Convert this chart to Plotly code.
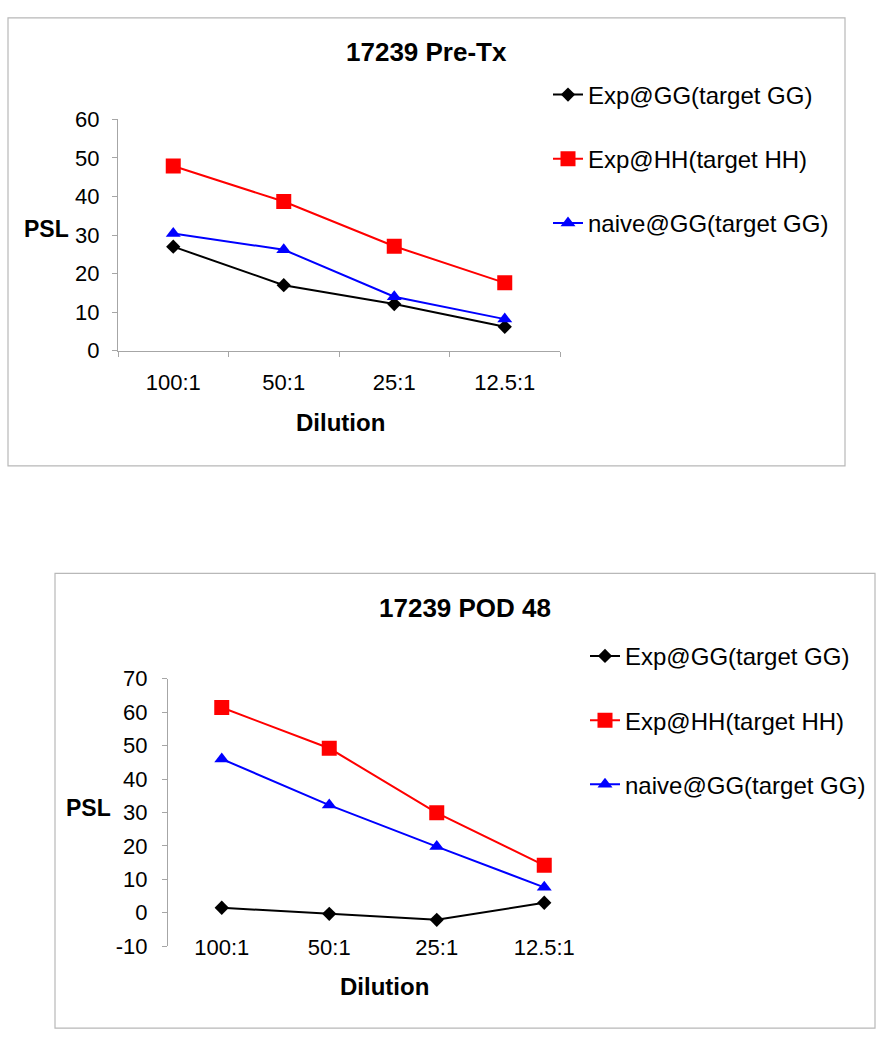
import plotly.graph_objects as go

# ---------------- data ----------------
categories = ["100:1", "50:1", "25:1", "12.5:1"]
series_names = ["Exp@GG(target GG)", "Exp@HH(target HH)", "naive@GG(target GG)"]

pre_exp_gg = [27.0, 17.0, 12.1, 6.2]
pre_exp_hh = [47.9, 38.7, 27.1, 17.6]
pre_naive_gg = [30.4, 26.2, 14.0, 8.2]

pod_exp_gg = [1.5, -0.3, -2.1, 3.0]
pod_exp_hh = [61.4, 49.2, 29.9, 14.2]
pod_naive_gg = [46.0, 32.2, 19.8, 7.6]

pre_yticks = [0, 10, 20, 30, 40, 50, 60]
pre_grid = [10, 20, 30, 40, 50]
pod_yticks = [-10, 0, 10, 20, 30, 40, 50, 60, 70]
pod_grid = [10, 20, 30, 40, 50, 60]

titles = ["17239 Pre-Tx", "17239 POD 48"]
x_title = "Dilution"
y_title = "PSL"

# ---------------- style ----------------
W, H = 886, 1050
FONT = "Liberation Sans, Arial, sans-serif"
AXC = "#a6a6a6"
GRIDC = "#c0c0c0"
BOXC = "#b8b8b8"
colors = ["#000000", "#ff0000", "#0000ff"]
symbols = ["diamond", "square", "triangle-up"]
msizes = [11, 15, 13]


def px(x):
    return x / W


def py(y):
    return 1 - y / H


fig = go.Figure()

pre_series = [pre_exp_gg, pre_exp_hh, pre_naive_gg]
pod_series = [pod_exp_gg, pod_exp_hh, pod_naive_gg]

for i, (name, vals) in enumerate(zip(series_names, pre_series)):
    fig.add_trace(go.Scatter(
        x=categories, y=vals, name=name, mode="lines+markers",
        line=dict(color=colors[i], width=2),
        marker=dict(symbol=symbols[i], size=msizes[i], color=colors[i]),
        xaxis="x", yaxis="y", legend="legend", legendgroup="a%d" % i,
        hoverinfo="skip"))

for i, (name, vals) in enumerate(zip(series_names, pod_series)):
    fig.add_trace(go.Scatter(
        x=categories, y=vals, name=name, mode="lines+markers",
        line=dict(color=colors[i], width=2),
        marker=dict(symbol=symbols[i], size=msizes[i], color=colors[i]),
        xaxis="x2", yaxis="y2", legend="legend2", legendgroup="b%d" % i,
        hoverinfo="skip"))

tickfont = dict(family=FONT, size=22, color="black")
ncat = len(categories)
boundaries = [i - 0.5 for i in range(ncat + 1)]

# top plot domain
top_x = [px(118), px(560)]
top_y = [py(347), py(110)]
# bottom plot domain
bot_x = [px(168), px(598)]
bot_y = [py(957), py(683)]
yr2 = [pod_yticks[0], pod_yticks[-1]]
p0 = bot_y[0] + (0 - yr2[0]) / (yr2[1] - yr2[0]) * (bot_y[1] - bot_y[0])

common_cat = dict(type="category", categoryorder="array", categoryarray=categories,
                  range=[-0.5, ncat - 0.5], showgrid=False, zeroline=False,
                  tickfont=tickfont)

fig.update_layout(
    width=W, height=H, margin=dict(l=0, r=0, t=0, b=0),
    paper_bgcolor="white", plot_bgcolor="rgba(0,0,0,0)",
    font=dict(family=FONT, color="black"),
    xaxis=dict(domain=top_x, anchor="y", showline=True, linecolor=AXC, linewidth=1,
               ticks="outside", tickson="boundaries", ticklen=5, tickcolor=AXC,
               ticklabelstandoff=12, **common_cat),
    yaxis=dict(domain=top_y, anchor="x", range=[pre_yticks[0], pre_yticks[-1]],
               tickvals=pre_yticks, ticktext=[str(v) for v in pre_yticks],
               showline=True, linecolor=AXC, linewidth=1,
               ticks="outside", ticklen=5, tickcolor=AXC, showgrid=False,
               zeroline=False, tickfont=tickfont, ticklabelstandoff=8),
    yaxis5=dict(overlaying="y", anchor="x", range=[pre_yticks[0], pre_yticks[-1]],
                tickvals=pre_grid, showgrid=True, gridcolor=GRIDC, gridwidth=1,
                showticklabels=False, ticks="", showline=False, zeroline=False),
    xaxis2=dict(domain=bot_x, anchor="y2", showline=False, ticks="",
                ticklabelstandoff=-14, **common_cat),
    yaxis2=dict(domain=bot_y, anchor="x2", range=yr2, tickvals=pod_yticks,
                ticktext=[str(v) for v in pod_yticks],
                showline=True, linecolor=AXC, linewidth=1, ticks="outside", ticklen=5,
                tickcolor=AXC, showgrid=False, zeroline=False, tickfont=tickfont,
                ticklabelstandoff=10),
    yaxis6=dict(overlaying="y2", anchor="x2", range=yr2, tickvals=pod_grid,
                showgrid=True, gridcolor=GRIDC, gridwidth=1, showticklabels=False,
                ticks="", showline=False, zeroline=False),
    xaxis3=dict(domain=bot_x, anchor="y7", range=[-0.5, ncat - 0.5],
                tickvals=boundaries, showline=True, linecolor=AXC, linewidth=1,
                ticks="outside", ticklen=5, tickcolor=AXC, showticklabels=False,
                showgrid=False, zeroline=False),
    yaxis7=dict(domain=[p0, p0 + 0.01], anchor="x3", showline=False,
                showticklabels=False, ticks="", showgrid=False, zeroline=False),
    legend=dict(x=px(548), y=py(62), xanchor="left", yanchor="top",
                font=dict(family=FONT, size=24, color="black"),
                bgcolor="rgba(0,0,0,0)", traceorder="grouped", tracegroupgap=30,
                itemwidth=30),
    legend2=dict(x=px(585), y=py(637), xanchor="left", yanchor="top",
                 font=dict(family=FONT, size=24, color="black"),
                 bgcolor="rgba(0,0,0,0)", traceorder="grouped", tracegroupgap=30,
                 itemwidth=30),
)

shapes = [
    # chart frames
    dict(type="rect", xref="paper", yref="paper", x0=px(8), x1=px(845),
         y0=py(465), y1=py(6), line=dict(color=BOXC, width=1.2)),
    dict(type="rect", xref="paper", yref="paper", x0=px(55), x1=px(875),
         y0=py(1041), y1=py(575), line=dict(color=BOXC, width=1.2)),
    # legend area (white) covering gridlines, as in the original
    dict(type="rect", xref="x", yref="y", x0=3.066, x1=3.7, y0=25, y1=62,
         fillcolor="white", line=dict(width=0), layer="between"),
    dict(type="rect", xref="x2", yref="y2", x0=3.081, x1=3.7, y0=25, y1=72,
         fillcolor="white", line=dict(width=0), layer="between"),
]

ann = []
def add_text(t, x, y, size, bold=True):
    ann.append(dict(text=("<b>%s</b>" % t) if bold else t, xref="paper", yref="paper",
                    x=px(x), y=py(y), xanchor="center", yanchor="middle",
                    showarrow=False, font=dict(family=FONT, size=size, color="black")))

add_text(titles[0], 426, 41, 26)
add_text(y_title, 46, 222, 23)
add_text(x_title, 340, 421, 24)
add_text(titles[1], 465, 611, 26)
add_text(y_title, 88, 815, 23)
add_text(x_title, 384, 998, 24)

fig.update_layout(shapes=shapes, annotations=ann)

fig.write_html("out.html",
               config={"displayModeBar": False, "staticPlot": True},
               post_script="document.body.style.margin='0';document.body.style.overflow='hidden';")
